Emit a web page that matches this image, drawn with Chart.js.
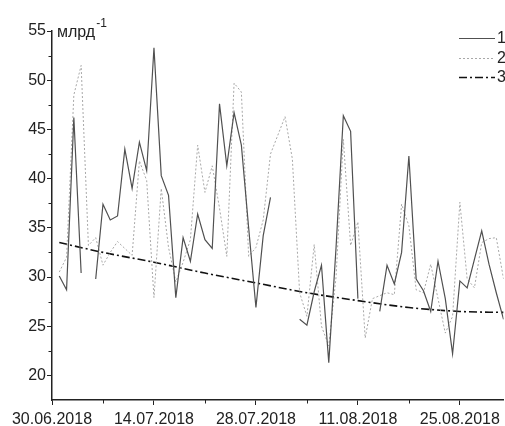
<!DOCTYPE html>
<html>
<head>
<meta charset="utf-8">
<script src="https://cdn.jsdelivr.net/npm/chart.js@4.4.1/dist/chart.umd.min.js"></script>
<style>
  html, body { margin: 0; padding: 0; background: #fff; }
  #wrap { position: relative; width: 505px; height: 426px; }
</style>
</head>
<body>
<div id="wrap"><canvas id="c" width="505" height="426"></canvas></div>
<script>
// Day index 0 = 30.06.2018
const days = [1,2,3,4,5,6,7,8,9,10,11,12,13,14,15,16,17,18,19,20,21,22,23,24,25,26,27,28,29,30,31,32,33,34,35,36,37,38,39,40,41,42,43,44,45,46,47,48,49,50,51,52,53,54,55,56,57,58,59,60,61,62];
const series1 = [30.1,28.7,46.2,30.4,null,29.8,37.4,35.8,36.2,43.0,39.0,43.7,40.8,53.3,40.3,38.3,27.9,34.0,31.6,36.4,33.8,32.9,47.6,41.3,46.7,43.4,35.0,26.9,34.2,38.1,null,null,null,25.7,25.1,28.5,31.2,21.3,33.0,46.4,44.8,27.8,null,null,26.5,31.2,29.3,32.5,42.3,29.8,28.6,26.5,31.6,27.8,22.2,29.6,28.9,31.8,34.7,31.3,28.4,25.7];
const series2 = [30.5,32.0,48.5,51.5,33.2,34.0,31.2,32.5,33.6,32.9,32.2,41.8,39.8,27.9,39.0,33.0,29.5,31.5,33.8,43.4,38.6,41.3,37.0,32.1,49.7,48.8,32.1,33.0,35.8,42.5,44.4,46.3,42.0,28.4,26.0,33.3,25.0,23.0,30.0,44.0,33.2,35.6,23.8,27.8,28.1,28.4,28.2,37.4,35.2,28.7,28.4,31.3,27.8,24.3,26.0,37.6,29.8,28.9,33.5,33.9,34.0,29.8];
const trendDays = [1,7,14,21,28,35,42,49,56,62];
const trendValues = [33.5,32.5,31.5,30.4,29.4,28.4,27.6,26.9,26.5,26.4];
const xTickDays = [0,7,14,21,28,35,42,49,56];
const xTickLabels = {0:'30.06.2018',14:'14.07.2018',28:'28.07.2018',42:'11.08.2018',56:'25.08.2018'};
const yMajor = [20,25,30,35,40,45,50,55];
const yMinor = [22.5,27.5,32.5,37.5,42.5,47.5,52.5];
const legendNames = ['1','2','3'];
const unitText = 'млрд';
const unitSup = '-1';

const FONT = "'Liberation Sans', Arial, sans-serif";
const TXT = '#222';
const AX = '#222';

const ds1 = days.map((d,i)=>({x:d, y:series1[i]}));
const ds2 = days.map((d,i)=>({x:d, y:series2[i]}));
const ds3 = trendDays.map((d,i)=>({x:d, y:trendValues[i]}));

const overlay = {
  id: 'overlay',
  afterDraw(chart) {
    const ctx = chart.ctx;
    const xs = chart.scales.x, ys = chart.scales.y;
    ctx.save();
    ctx.strokeStyle = AX; ctx.lineWidth = 1;
    yMinor.forEach(v => {
      const p = Math.round(ys.getPixelForValue(v)) + 0.5;
      ctx.beginPath(); ctx.moveTo(ys.right - 3.5, p); ctx.lineTo(ys.right, p); ctx.stroke();
    });
    xTickDays.filter(d => !(d in xTickLabels)).forEach(d => {
      const p = Math.round(xs.getPixelForValue(d)) + 0.5;
      ctx.beginPath(); ctx.moveTo(p, xs.top); ctx.lineTo(p, xs.top + 3.5); ctx.stroke();
    });
    ctx.fillStyle = TXT;
    ctx.textBaseline = 'alphabetic';
    ctx.textAlign = 'left';
    ctx.font = '16px ' + FONT;
    const ux = ys.right + 5;
    ctx.fillText(unitText, ux, 37);
    const w = ctx.measureText(unitText).width;
    ctx.font = '12px ' + FONT;
    ctx.fillText(unitSup, ux + w + 1, 27);
    const ly = [38, 58, 77];
    chart.data.datasets.forEach((ds, i) => {
      ctx.save();
      ctx.strokeStyle = ds.borderColor;
      ctx.lineWidth = ds.borderWidth;
      ctx.setLineDash(ds.borderDash || []);
      ctx.beginPath(); ctx.moveTo(459, ly[i] + 0.5); ctx.lineTo(495, ly[i] + 0.5); ctx.stroke();
      ctx.restore();
      ctx.fillStyle = TXT;
      ctx.font = '16px ' + FONT;
      ctx.textBaseline = 'middle';
      ctx.fillText(legendNames[i], 497, ly[i] + 1);
    });
    ctx.restore();
  }
};

new Chart(document.getElementById('c'), {
  type: 'line',
  data: {
    datasets: [
      { label: legendNames[0], data: ds1, borderColor: '#505050', borderWidth: 1.2, pointRadius: 0, spanGaps: false, tension: 0, fill: false },
      { label: legendNames[1], data: ds2, borderColor: '#a8a8a8', borderWidth: 1, borderDash: [2,2], pointRadius: 0, tension: 0, fill: false },
      { label: legendNames[2], data: ds3, borderColor: '#111', borderWidth: 1.6, borderDash: [8,3,2,3], pointRadius: 0, cubicInterpolationMode: 'monotone', fill: false }
    ]
  },
  options: {
    responsive: false,
    animation: false,
    devicePixelRatio: 1,
    layout: { padding: { top: 31, right: 1, left: 0, bottom: 0 } },
    plugins: { legend: { display: false }, tooltip: { enabled: false } },
    scales: {
      x: {
        type: 'linear', min: 0, max: 62,
        afterBuildTicks: s => { s.ticks = xTickDays.map(v => ({ value: v })); },
        afterFit: s => { s.height = 26; },
        border: { display: true, color: AX, width: 1.5 },
        grid: { drawOnChartArea: false, drawTicks: true, tickLength: 5,
          tickColor: c => (c.tick && (c.tick.value in xTickLabels)) ? AX : 'rgba(0,0,0,0)', tickWidth: 1 },
        ticks: { autoSkip: false, maxRotation: 0, padding: 5, color: TXT,
          font: { family: FONT, size: 16 },
          callback: v => xTickLabels[v] || '' }
      },
      y: {
        min: 17.5, max: 55,
        afterBuildTicks: s => { s.ticks = yMajor.map(v => ({ value: v })); },
        afterFit: s => { s.width = 52; },
        border: { display: true, color: AX, width: 1.5 },
        grid: { drawOnChartArea: false, drawTicks: true, tickLength: 5, tickColor: AX, tickWidth: 1 },
        ticks: { autoSkip: false, padding: 1, color: TXT, font: { family: FONT, size: 16 },
          callback: v => String(v) }
      }
    }
  },
  plugins: [overlay]
});
</script>
</body>
</html>
